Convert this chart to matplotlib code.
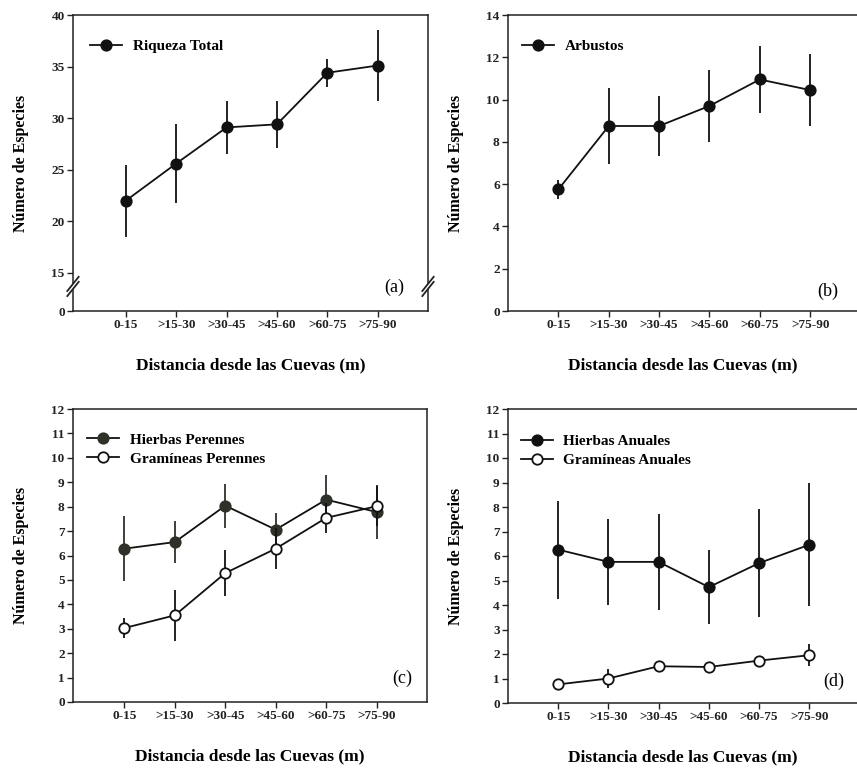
import matplotlib
matplotlib.use("Agg")
import matplotlib.pyplot as plt
import numpy as np

plt.rcParams['font.family'] = ['Liberation Serif', 'DejaVu Serif']

categories = ['0-15', '>15-30', '>30-45', '>45-60', '>60-75', '>75-90']

riqueza = [22.0, 25.6, 29.1, 29.4, 34.4, 35.1]
riqueza_err = [3.5, 3.8, 2.6, 2.3, 1.35, 3.45]

arbustos = [5.75, 8.75, 8.75, 9.7, 10.95, 10.45]
arbustos_err = [0.45, 1.8, 1.4, 1.7, 1.6, 1.72]

hierbas_per = [6.28, 6.55, 8.04, 7.06, 8.29, 7.78]
hierbas_per_err = [1.33, 0.85, 0.9, 0.68, 1.0, 1.1]
gram_per = [3.03, 3.55, 5.28, 6.28, 7.54, 8.02]
gram_per_err = [0.42, 1.05, 0.95, 0.85, 0.62, 0.82]

hierbas_an = [6.26, 5.76, 5.76, 4.73, 5.71, 6.46]
hierbas_an_err = [2.0, 1.77, 1.95, 1.5, 2.2, 2.5]
gram_an = [0.76, 1.0, 1.5, 1.47, 1.73, 1.95]
gram_an_err = [0.1, 0.39, 0.15, 0.15, 0.15, 0.44]

xlabel = 'Distancia desde las Cuevas (m)'
ylabel = 'Número de Especies'

W, H = 857, 775
fig = plt.figure(figsize=(W / 100, H / 100), dpi=100)


def px_axes(l, t, r, b):
    return fig.add_axes([l / W, 1 - b / H, (r - l) / W, (b - t) / H])


ax_a = px_axes(73, 15, 428, 311)
ax_b = px_axes(508, 15, 858, 311)
ax_c = px_axes(73, 409, 427, 702)
ax_d = px_axes(508, 409, 858, 703)

x = np.arange(1, len(categories) + 1)
dark = '#111111'


def series(ax, y, err, label, filled=True, color=dark, z=3):
    ax.errorbar(x, y, yerr=err, fmt='none', ecolor=color, elinewidth=1.3,
                capsize=0, zorder=z)
    ax.plot(x, y, '-o', color=dark, lw=1.3, ms=7.5,
            mfc=color if filled else 'white', mec=dark if not filled else color,
            mew=1.3, label=label, zorder=z + 0.5)


def style(ax, xlim, ylim, yticks, yticklabels, tag, tagpos, legpos):
    ax.set_xlim(*xlim)
    ax.set_ylim(*ylim)
    ax.set_xticks(x)
    ax.set_xticklabels(categories)
    ax.set_yticks(yticks)
    ax.set_yticklabels(yticklabels)
    for s in ax.spines.values():
        s.set_linewidth(1.1)
        s.set_color('#222222')
    ax.tick_params(direction='out', length=4, width=1.0, labelsize=9.5,
                   pad=2, colors='#222222')
    for lab in ax.get_xticklabels() + ax.get_yticklabels():
        lab.set_fontweight('bold')
    ax.set_xlabel(xlabel, fontsize=12.5, fontweight='bold', labelpad=19)
    ax.set_ylabel(ylabel, fontsize=11.5, fontweight='bold', labelpad=16)
    ax.text(tagpos[0], tagpos[1], tag, transform=ax.transAxes, fontsize=13,
            ha='center', va='center')
    ax.legend(loc='upper left', bbox_to_anchor=legpos, frameon=False,
              borderpad=0, borderaxespad=0, handlelength=2.1,
              handletextpad=0.7, labelspacing=0.35,
              prop={'size': 11, 'weight': 'bold'})


# (a)
series(ax_a, riqueza, riqueza_err, 'Riqueza Total')
yt_a = [11.3, 15, 20, 25, 30, 35, 40]
style(ax_a, (-0.05, 7.0), (11.3, 40), yt_a, ['0', '15', '20', '25', '30', '35', '40'],
      '(a)', (0.904, 0.081), (0.048, 0.917))

# broken axis marks
for xa in (0.0, 1.0):
    yb = 0.083
    dx, dy = 0.016, 0.024
    gap = 0.017
    ax_a.fill([xa - dx, xa + dx, xa + dx, xa - dx],
              [yb - dy - gap / 2, yb + dy - gap / 2, yb + dy + gap / 2, yb - dy + gap / 2],
              color='white', transform=ax_a.transAxes, clip_on=False, zorder=10, lw=0)
    for off in (-gap / 2, gap / 2):
        ax_a.plot([xa - dx, xa + dx], [yb - dy + off, yb + dy + off], color='#222222',
                  lw=1.3, transform=ax_a.transAxes, clip_on=False, zorder=11)

# (b)
series(ax_b, arbustos, arbustos_err, 'Arbustos')
style(ax_b, (0.0, 6.95), (0, 14), range(0, 15, 2), [str(v) for v in range(0, 15, 2)],
      '(b)', (0.914, 0.068), (0.04, 0.917))

# (c)
series(ax_c, hierbas_per, hierbas_per_err, 'Hierbas Perennes', color='#2e3128', z=3)
series(ax_c, gram_per, gram_per_err, 'Gramíneas Perennes', filled=False, z=4)
style(ax_c, (-0.02, 7.0), (0, 12), range(0, 13), [str(v) for v in range(0, 13)],
      '(c)', (0.929, 0.082), (0.04, 0.918))

# (d)
series(ax_d, hierbas_an, hierbas_an_err, 'Hierbas Anuales', z=3)
series(ax_d, gram_an, gram_an_err, 'Gramíneas Anuales', filled=False, z=4)
style(ax_d, (0.0, 6.97), (0, 12), range(0, 13), [str(v) for v in range(0, 13)],
      '(d)', (0.931, 0.075), (0.036, 0.913))

fig.savefig('out.png', dpi=100)
